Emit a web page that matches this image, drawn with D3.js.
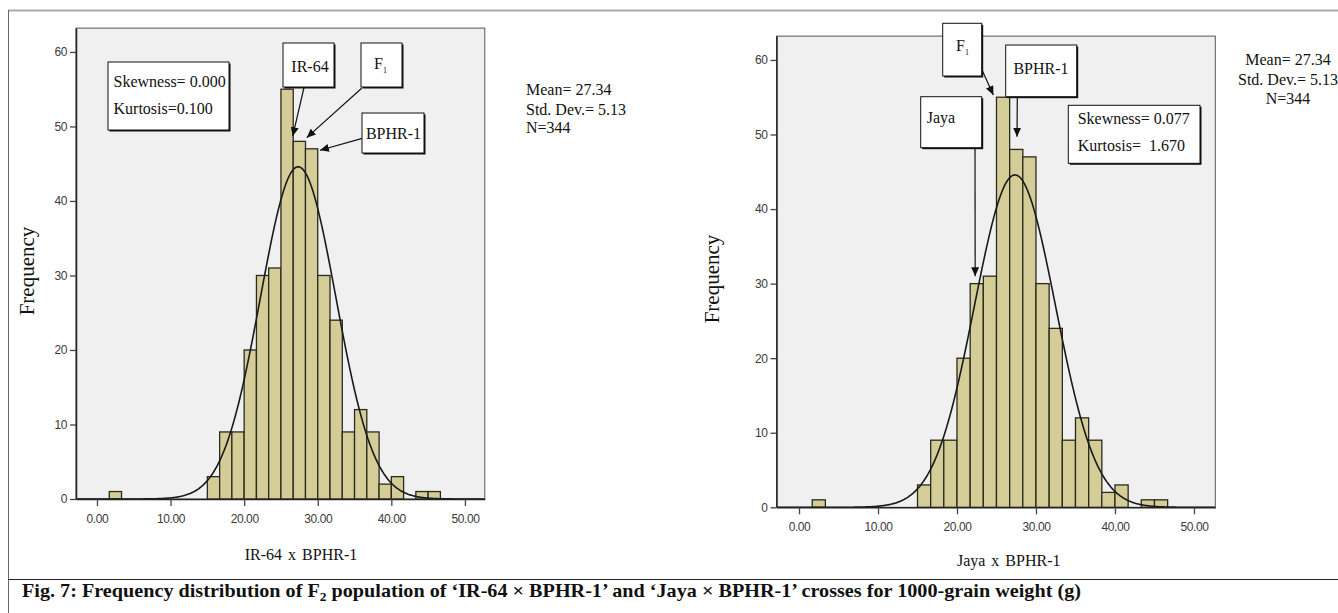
<!DOCTYPE html>
<html>
<head>
<meta charset="utf-8">
<script src="https://cdn.jsdelivr.net/npm/d3@7"></script>
<style>
  html, body { margin: 0; padding: 0; background: #fff; }
  svg { display: block; }
  .serif { font-family: "Liberation Serif", "Times New Roman", Times, serif; fill: #111; }
  .tick text { font-family: "Liberation Sans", Arial, sans-serif; font-size: 12px; letter-spacing: -0.4px; fill: #3a3a3a; }
</style>
</head>
<body>
<svg id="chart" width="1338" height="613"></svg>
<script>
// ---- data: F2 frequency distribution of 1000-grain weight (g), bin width 5/3 g ----
const binWidth = 5 / 3;
const binStarts = [1.67, 15.00, 16.67, 18.33, 20.00, 21.67, 23.33, 25.00, 26.67, 28.33,
                   30.00, 31.67, 33.33, 35.00, 36.67, 38.33, 40.00, 43.33, 45.00];
const irCounts   = [1, 3, 9, 9, 20, 30, 31, 55, 48, 47, 30, 24, 9, 12, 9, 2, 3, 1, 1];
const jayaCounts = [1, 3, 9, 9, 20, 30, 31, 55, 48, 47, 30, 24, 9, 12, 9, 2, 3, 1, 1];

const meanVal = 27.34, sdVal = 5.13, nVal = 344;
const irShape   = ["Skewness= 0.000", "Kurtosis=0.100"];
const jayaShape = ["Skewness= 0.077", "Kurtosis=  1.670"];

const xTicks = [0, 10, 20, 30, 40, 50];
const yTicks = [0, 10, 20, 30, 40, 50, 60];
const xDomain = [-2.85, 52.7];
const yDomain = [0, 63.2];

const svg = d3.select("#chart");

// outer frame of the figure
svg.append("line").attr("x1", 8).attr("x2", 1338).attr("y1", 10.5).attr("y2", 10.5)
  .attr("stroke", "#a9a9a9").attr("stroke-width", 2);
svg.append("line").attr("x1", 8.5).attr("x2", 8.5).attr("y1", 10).attr("y2", 613)
  .attr("stroke", "#666").attr("stroke-width", 1);
svg.append("line").attr("x1", 8).attr("x2", 1338).attr("y1", 579.5).attr("y2", 579.5)
  .attr("stroke", "#222").attr("stroke-width", 1.2);

// arrow head
svg.append("defs").append("marker")
  .attr("id", "arrow").attr("markerUnits", "userSpaceOnUse")
  .attr("viewBox", "0 0 9 8").attr("markerWidth", 9).attr("markerHeight", 8)
  .attr("refX", 9).attr("refY", 4).attr("orient", "auto")
  .append("path").attr("d", "M0,0 L9,4 L0,8 Z").attr("fill", "#111");

function normalCount(v) {
  const z = (v - meanVal) / sdVal;
  return nVal * binWidth * Math.exp(-0.5 * z * z) / (sdVal * Math.sqrt(2 * Math.PI));
}

function drawBox(g, b) {
  // drop-shadowed white label box
  g.append("rect").attr("x", b.x + 1.5).attr("y", b.y + 1.5).attr("width", b.w).attr("height", b.h)
    .attr("fill", "#111");
  g.append("rect").attr("x", b.x).attr("y", b.y).attr("width", b.w).attr("height", b.h)
    .attr("fill", "#fff").attr("stroke", "#111").attr("stroke-width", 1);
}

function drawPanel(p) {
  const x = d3.scaleLinear().domain(xDomain).range([p.left, p.right]);
  const y = d3.scaleLinear().domain(yDomain).range([p.bottom, p.top]);
  const g = svg.append("g");

  // plot background
  g.append("rect").attr("x", p.left).attr("y", p.top)
    .attr("width", p.right - p.left).attr("height", p.bottom - p.top)
    .attr("fill", "#f0f0f0").attr("stroke", "#555").attr("stroke-width", 1);

  const clipId = "clip-" + p.id;
  g.append("clipPath").attr("id", clipId).append("rect")
    .attr("x", p.left).attr("y", p.top).attr("width", p.right - p.left).attr("height", p.bottom - p.top);

  // histogram bars
  g.append("g").selectAll("rect").data(binStarts.map((s, i) => ({ s, c: p.counts[i] })))
    .join("rect")
    .attr("x", d => x(d.s))
    .attr("y", d => y(d.c))
    .attr("width", d => x(d.s + binWidth) - x(d.s))
    .attr("height", d => y(0) - y(d.c))
    .attr("fill", "#d4cd98").attr("stroke", "#2a2a1e").attr("stroke-width", 1.3);

  // fitted normal curve
  const pts = d3.range(xDomain[0], xDomain[1] + 0.05, 0.1);
  g.append("path").datum(pts)
    .attr("clip-path", `url(#${clipId})`)
    .attr("fill", "none").attr("stroke", "#1a1a1a").attr("stroke-width", 1.6)
    .attr("d", d3.line().x(v => x(v)).y(v => y(normalCount(v))));

  // axes
  const ax = g.append("g").attr("transform", `translate(0,${p.bottom})`)
    .call(d3.axisBottom(x).tickValues(xTicks).tickFormat(d => d.toFixed(2))
      .tickSize(7).tickSizeOuter(0).tickPadding(8));
  ax.select(".domain").attr("stroke", "#222").attr("stroke-width", 1.5);
  ax.selectAll(".tick line").attr("stroke", "#444").attr("stroke-width", 1.3);

  const ay = g.append("g").attr("transform", `translate(${p.left},0)`)
    .call(d3.axisLeft(y).tickValues(yTicks).tickFormat(d3.format("d"))
      .tickSize(6).tickSizeOuter(0).tickPadding(3));
  ay.select(".domain").attr("stroke", "#222").attr("stroke-width", 1.5);
  ay.selectAll(".tick line").attr("stroke", "#444").attr("stroke-width", 1.3);

  // axis titles
  g.append("text").attr("class", "serif")
    .attr("transform", `translate(${p.yTitleX},${p.yTitleY}) rotate(-90)`)
    .attr("text-anchor", "middle").attr("font-size", 21).text("Frequency");
  g.append("text").attr("class", "serif")
    .attr("x", p.xTitleX).attr("y", p.xTitleY).attr("text-anchor", "middle")
    .attr("font-size", 16).attr("word-spacing", 2).text(p.xTitle);

  // shape statistics box
  drawBox(g, p.shapeBox);
  p.shape.forEach((t, i) => {
    g.append("text").attr("class", "serif").style("white-space", "pre")
      .attr("x", p.shapeBox.tx).attr("y", p.shapeBox.ty[i]).attr("font-size", 16).text(t);
  });

  // parent labels with arrows
  p.labels.forEach(l => {
    g.append("line")
      .attr("x1", l.from[0]).attr("y1", l.from[1])
      .attr("x2", x(l.tip[0])).attr("y2", y(l.tip[1]))
      .attr("stroke", "#111").attr("stroke-width", 1.2).attr("marker-end", "url(#arrow)");
    drawBox(g, l.box);
    const t = g.append("text").attr("class", "serif")
      .attr("x", l.tx).attr("y", l.ty).attr("font-size", 16)
      .attr("text-anchor", l.anchor || "middle");
    if (l.sub) {
      t.append("tspan").text(l.text);
      t.append("tspan").attr("font-size", 8).attr("dy", 4).text(l.sub);
    } else {
      t.text(l.text);
    }
  });

  // summary statistics
  const st = g.append("text").attr("class", "serif").attr("font-size", 16)
    .attr("text-anchor", p.statsAnchor);
  [`Mean= ${meanVal.toFixed(2)}`, `Std. Dev.= ${sdVal.toFixed(2)}`, `N=${nVal}`].forEach((s, i) => {
    st.append("tspan").attr("x", p.statsX).attr("y", p.statsY[i]).text(s);
  });
}

drawPanel({
  id: "ir", counts: irCounts, shape: irShape,
  left: 76, right: 484.8, top: 28.1, bottom: 499,
  yTitleX: 34, yTitleY: 271, xTitle: "IR-64 x BPHR-1", xTitleX: 301, xTitleY: 560,
  shapeBox: { x: 108, y: 62, w: 121, h: 68, tx: 113.5, ty: [87, 113.5] },
  labels: [
    { text: "IR-64", box: { x: 283, y: 43, w: 51, h: 44 }, tx: 310, ty: 72, from: [304, 87.5], tip: [26.6, 48.7] },
    { text: "F", sub: "1", box: { x: 361, y: 43, w: 41, h: 44 }, tx: 374, ty: 69, anchor: "start", from: [361.7, 88.3], tip: [28.5, 48.5] },
    { text: "BPHR-1", box: { x: 362, y: 113, w: 62, h: 40 }, tx: 393.5, ty: 138.5, from: [362.3, 138.3], tip: [30.3, 46.8] }
  ],
  statsX: 526, statsY: [94.5, 114.5, 133], statsAnchor: "start"
});

drawPanel({
  id: "jaya", counts: jayaCounts, shape: jayaShape,
  left: 776.5, right: 1215.3, top: 36.1, bottom: 507.3,
  yTitleX: 719, yTitleY: 279, xTitle: "Jaya x BPHR-1", xTitleX: 1008.7, xTitleY: 566,
  shapeBox: { x: 1068.3, y: 105.3, w: 131.7, h: 58, tx: 1077.7, ty: [123.5, 151] },
  labels: [
    { text: "F", sub: "1", box: { x: 942.7, y: 23.3, w: 39, h: 52.7 }, tx: 956, ty: 50.5, anchor: "start", from: [981.7, 69.3], tip: [24.6, 55.3] },
    { text: "BPHR-1", box: { x: 1005.7, y: 45, w: 71, h: 51.7 }, tx: 1041, ty: 73.5, from: [1017.3, 96.7], tip: [27.6, 49.7] },
    { text: "Jaya", box: { x: 920.7, y: 96.7, w: 61, h: 51 }, tx: 926.7, ty: 123, anchor: "start", from: [975, 147.7], tip: [22.3, 31.0] }
  ],
  statsX: 1288, statsY: [64.6, 85.3, 103.6], statsAnchor: "middle"
});

// figure caption, condensed to the printed line width
const cap = svg.append("text").attr("class", "serif")
  .attr("font-size", 18).attr("font-weight", "bold");
cap.append("tspan").text("Fig. 7: Frequency distribution of F");
cap.append("tspan").attr("font-size", 12).attr("dy", 4).text("2");
cap.append("tspan").attr("dy", -4).text(" population of \u2018IR-64 \u00d7 BPHR-1\u2019 and \u2018Jaya \u00d7 BPHR-1\u2019 crosses for 1000-grain weight (g)");
const capW = cap.node().getComputedTextLength();
cap.attr("transform", `translate(22,597) scale(${1060 / capW},1)`);
</script>
</body>
</html>
